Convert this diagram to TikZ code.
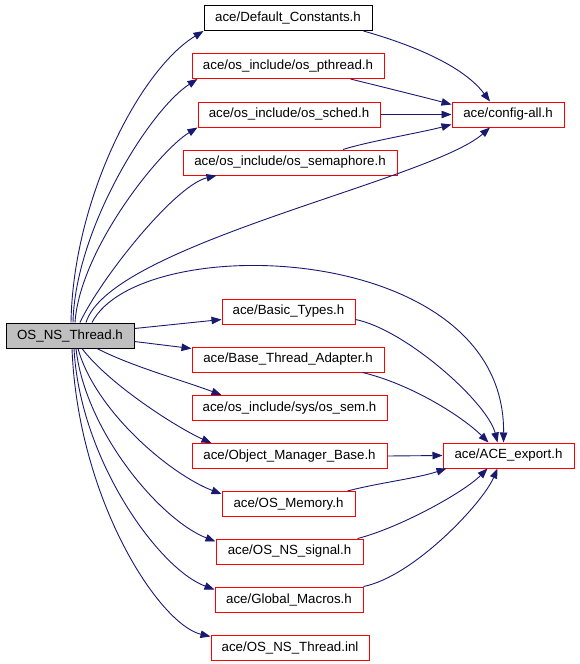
\documentclass[tikz,border=0pt]{standalone}
\usepackage{fontspec}
\setmainfont{Liberation Sans}
\usetikzlibrary{arrows.meta}
\definecolor{depblue}{RGB}{25,25,112}
\definecolor{maingray}{RGB}{191,191,191}
\tikzset{
	hfile/.style = {draw = red, line width = 1pt, minimum height = 25pt, inner sep = 0pt,
		font = \fontsize{13.3}{15}\selectfont},
	hdoc/.style = {hfile, draw = black},
	hmain/.style = {hfile, draw = black, fill = maingray},
	dep/.style = {draw = depblue, line width = 0.9pt, -{Triangle[length=10pt,width=7.5pt]}}
}
\begin{document}
\begin{tikzpicture}[x = 1pt, y = -1pt]
	\useasboundingbox (0,0) rectangle (579,664);
	% the files
	\node[hmain, minimum width = 128pt] (main) at (70,335.5) {OS\_NS\_Thread.h};
	\node[hdoc, minimum width = 168pt] (defc) at (288,18) {ace/Default\_Constants.h};
	\node[hfile, minimum width = 192pt] (pthr) at (288,66) {ace/os\_include/os\_pthread.h};
	\node[hfile, minimum width = 182pt] (sched) at (289,114.5) {ace/os\_include/os\_sched.h};
	\node[hfile, minimum width = 214pt] (sema) at (290,162.5) {ace/os\_include/os\_semaphore.h};
	\node[hfile, minimum width = 112pt] (conf) at (508,114.5) {ace/config-all.h};
	\node[hfile, minimum width = 133pt] (basic) at (288.5,311.5) {ace/Basic\_Types.h};
	\node[hfile, minimum width = 192pt] (bta) at (288,359.5) {ace/Base\_Thread\_Adapter.h};
	\node[hfile, minimum width = 195pt] (ossem) at (289.5,408) {ace/os\_include/sys/os\_sem.h};
	\node[hfile, minimum width = 195pt] (omb) at (289.5,456) {ace/Object\_Manager\_Base.h};
	\node[hfile, minimum width = 133pt] (mem) at (288.5,504) {ace/OS\_Memory.h};
	\node[hfile, minimum width = 147pt] (sig) at (289.5,551.5) {ace/OS\_NS\_signal.h};
	\node[hfile, minimum width = 148pt] (glob) at (289,599.5) {ace/Global\_Macros.h};
	\node[hfile, minimum width = 158pt] (inl) at (290,647.5) {ace/OS\_NS\_Thread.inl};
	\node[hfile, minimum width = 131pt] (acex) at (508.5,455.5) {ace/ACE\_export.h};
	% OS_NS_Thread.h includes
	\draw[dep] ([xshift=1pt]main.north) .. controls +(2,-123) and +(-64,39) .. (defc.south west);
	\draw[dep] ([xshift=3pt]main.north) .. controls +(2,-93) and +(-48,31) .. ([xshift=6pt]pthr.south west);
	\draw[dep] ([xshift=5pt]main.north) .. controls +(5,-73) and +(-38,23) .. (sched.south west);
	\draw[dep] ([xshift=10pt]main.north) .. controls +(20,-43) and +(-42,10) .. ([xshift=34pt]sema.south west);
	\draw[dep] ([xshift=16pt]main.north) .. controls +(24,-78) and +(-60,53) .. ([xshift=-18pt]conf.south);
	\draw[dep] ([xshift=22pt]main.north) .. controls +(48,-93) and +(2,-203) .. ([xshift=-5pt]acex.north);
	\draw[dep] ([yshift=7pt]main.east) -- ([yshift=-8pt]basic.west);
	\draw[dep] ([yshift=-6pt]main.east) -- ([yshift=11pt]bta.west);
	\draw[dep] ([xshift=27pt]main.south) .. controls +(35,18) and +(-40,-15) .. ([xshift=30pt]ossem.north west);
	\draw[dep] ([xshift=12pt]main.south) .. controls +(28,37) and +(-32,-14) .. ([xshift=20pt]omb.north west);
	\draw[dep] ([xshift=8pt]main.south) .. controls +(17,62) and +(-52,-20) .. ([yshift=-3pt]mem.north west);
	\draw[dep] ([xshift=6pt]main.south) .. controls +(9,82) and +(-56,-22) .. ([yshift=-3pt]sig.north west);
	\draw[dep] ([xshift=4pt]main.south) .. controls +(6,112) and +(-55,-20) .. ([yshift=-3pt]glob.north west);
	\draw[dep] ([xshift=2pt]main.south) .. controls +(6,152) and +(-51,-12) .. ([yshift=-2pt]inl.north west);
	% second level
	\draw[dep] ([xshift=-9pt]defc.south east) .. controls +(35,10) and +(-30,-40) .. ([xshift=-18pt]conf.north);
	\draw[dep] ([xshift=-34pt]pthr.south east) .. controls +(20,5) and +(-30,-8) .. ([yshift=10pt]conf.west);
	\draw[dep] (sched.east) -- (conf.west);
	\draw[dep] ([xshift=53pt]sema.north) .. controls +(25,-8) and +(-30,8) .. ([yshift=-10pt]conf.west);
	\draw[dep] ([yshift=-8pt]basic.east) .. controls +(50,10) and +(-10,-40) .. ([xshift=-11pt]acex.north);
	\draw[dep] ([xshift=-22pt]bta.south east) .. controls +(50,12) and +(-25,-25) .. ([xshift=-20pt]acex.north);
	\draw[dep] (omb.east) -- (acex.west);
	\draw[dep] ([xshift=-8pt]mem.north east) .. controls +(30,-8) and +(-30,10) .. ([xshift=4pt]acex.south west);
	\draw[dep] ([xshift=-6pt]sig.north east) .. controls +(40,-10) and +(-25,25) .. ([xshift=-21pt]acex.south);
	\draw[dep] (glob.north east) .. controls +(50,-10) and +(-15,35) .. ([xshift=-11pt]acex.south);
\end{tikzpicture}
\end{document}
